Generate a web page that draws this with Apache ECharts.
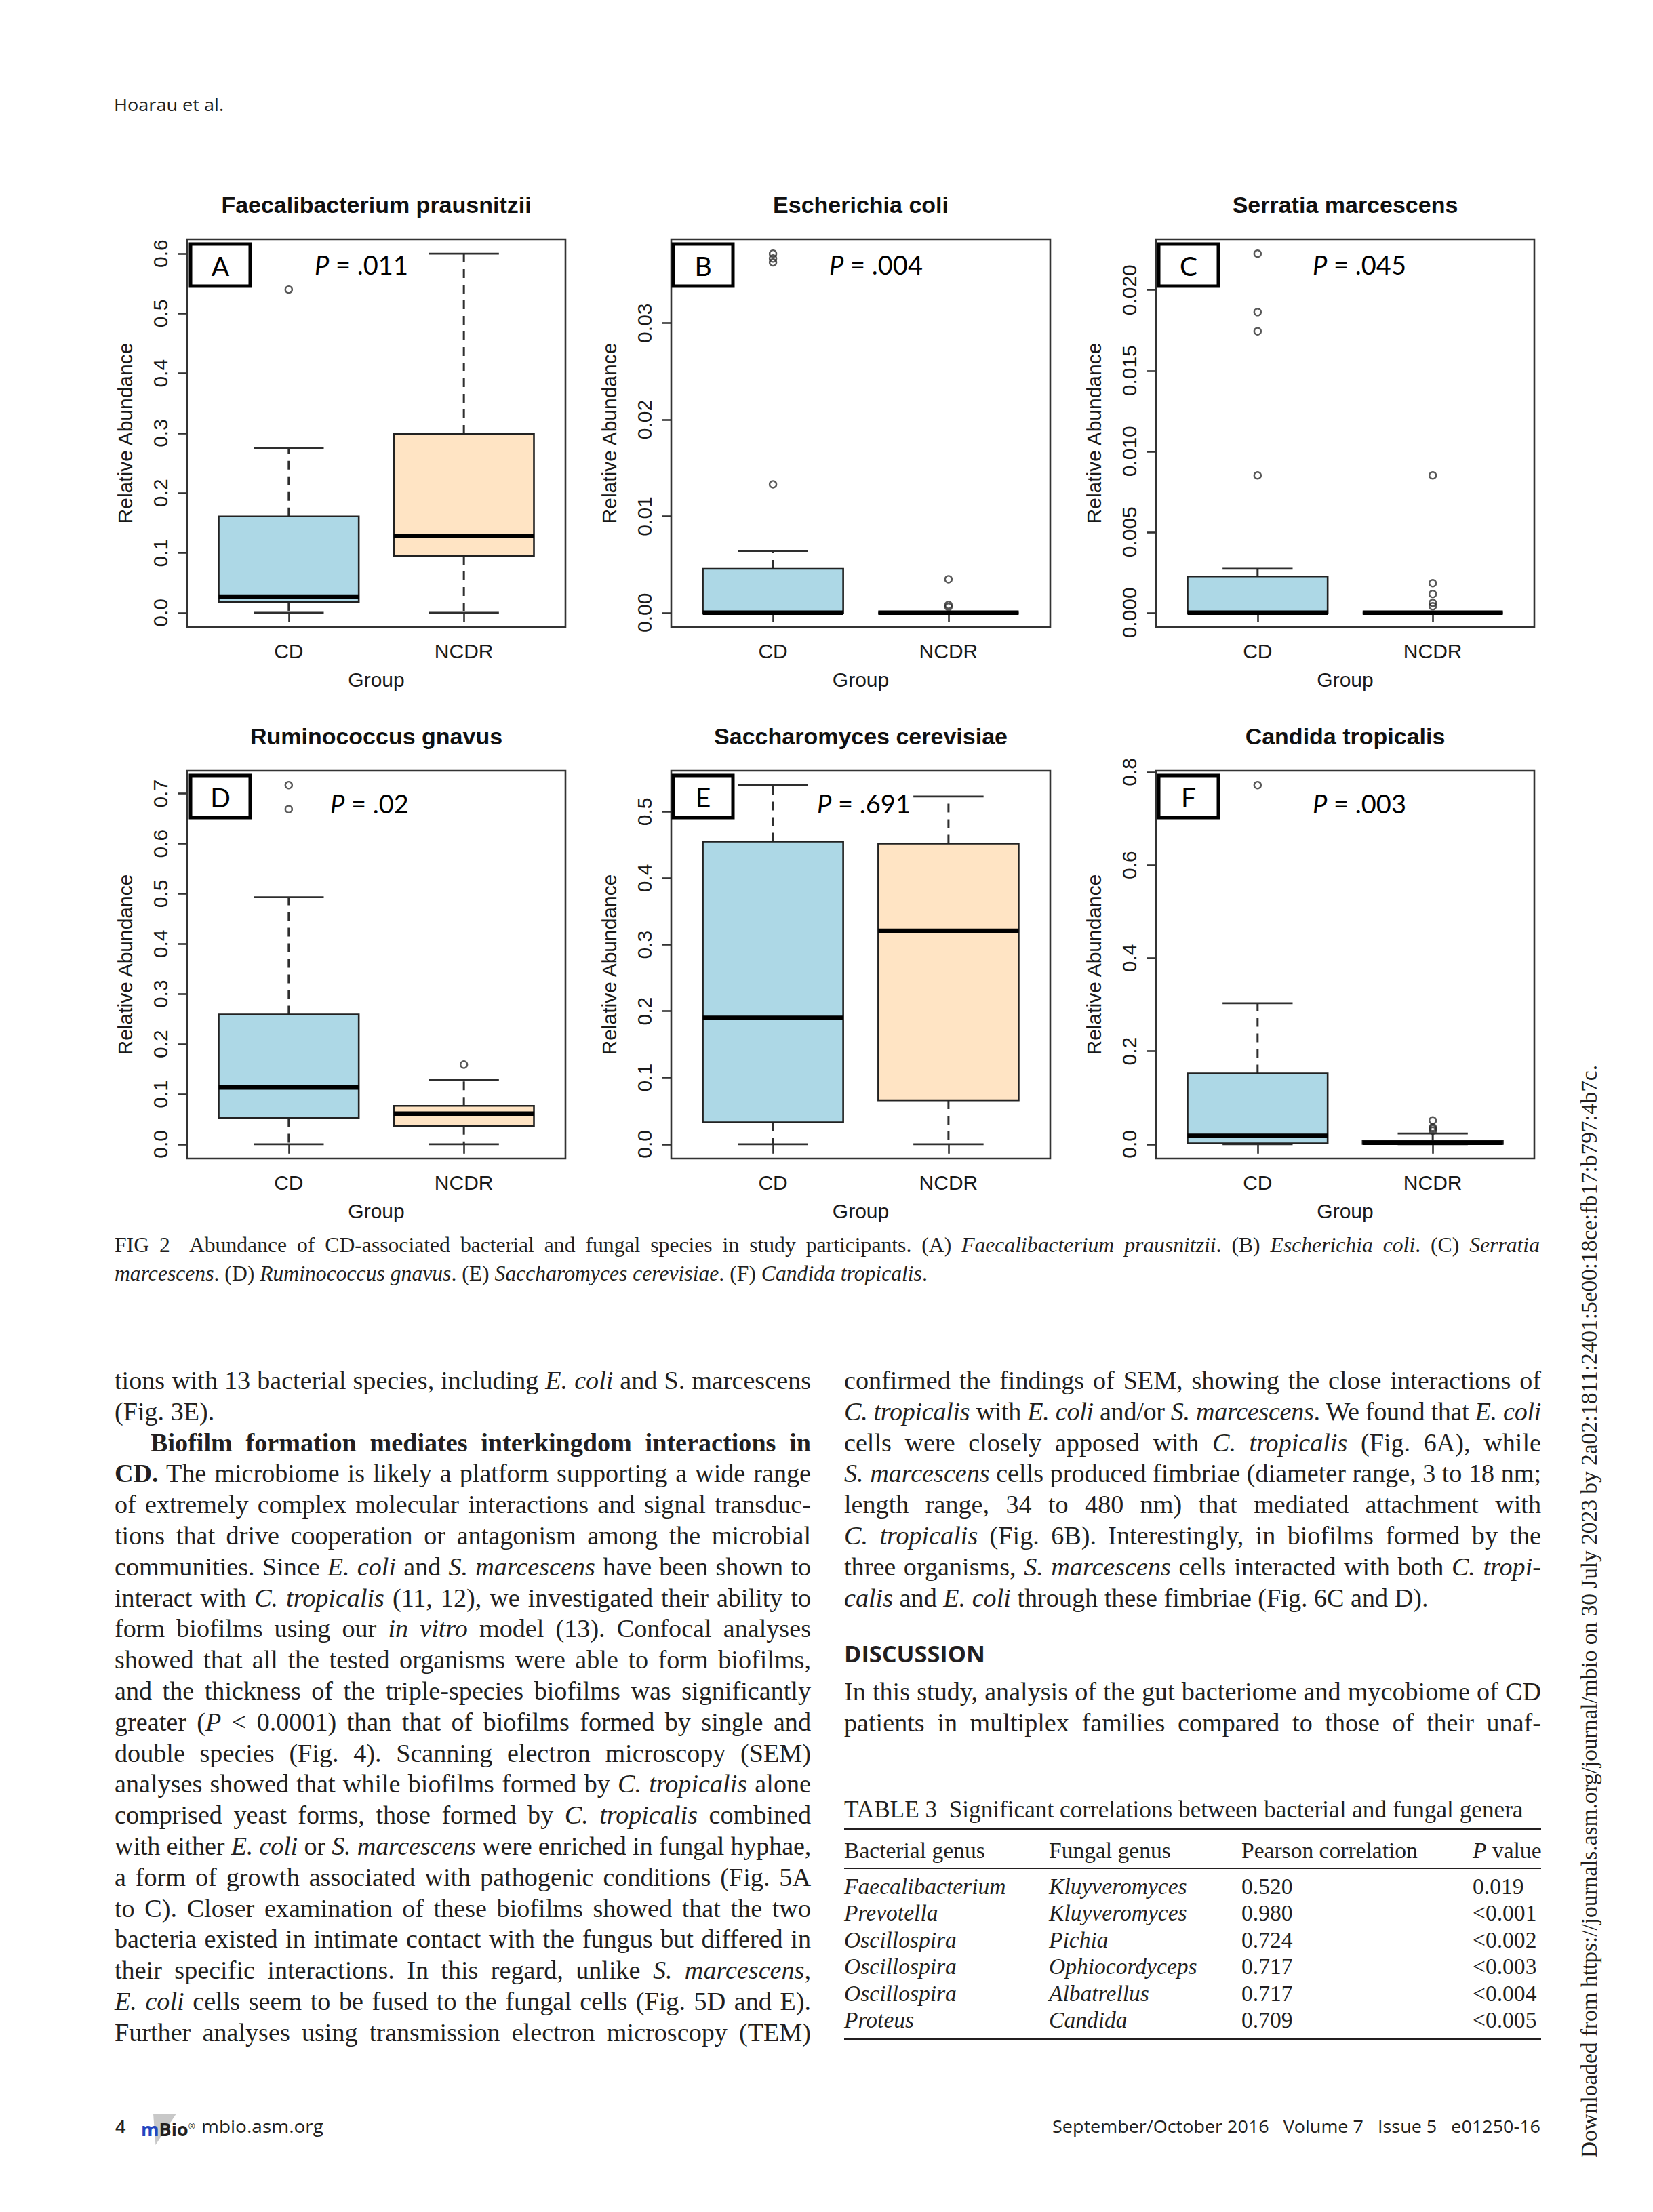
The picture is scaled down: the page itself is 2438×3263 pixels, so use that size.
<!DOCTYPE html>
<html>
<head>
<meta charset="utf-8">
<script src="https://cdn.jsdelivr.net/npm/echarts@6/dist/echarts.min.js"></script>
<style>
html,body{margin:0;padding:0;background:#fff;}
#page{position:relative;width:2438px;height:3263px;overflow:hidden;background:#fff;}
#chart{position:absolute;left:0;top:0;width:2438px;height:3263px;}
.txt{position:absolute;white-space:nowrap;color:#231f20;z-index:2;}
.serif{font-family:'Liberation Serif','Times New Roman',serif;}
.sans{font-family:'Open Sans','Liberation Sans',sans-serif;}
.rule{position:absolute;background:#231f20;z-index:2;}
</style>
</head>
<body>
<div id="page"><div id="chart"></div></div>
<script>
// ---------------- DATA ----------------
const GROUPS = ['CD', 'NCDR'];
const PANEL_TITLES = ['Faecalibacterium prausnitzii', 'Escherichia coli', 'Serratia marcescens',
                      'Ruminococcus gnavus', 'Saccharomyces cerevisiae', 'Candida tropicalis'];
const PANEL_LETTERS = ['A', 'B', 'C', 'D', 'E', 'F'];
const P_VALUES = ['.011', '.004', '.045', '.02', '.691', '.003'];
const Y_NAME = 'Relative Abundance';
const X_NAME = 'Group';

// [lower whisker, Q1, median, Q3, upper whisker]
const A_CD   = [0, 0.018, 0.027, 0.161, 0.275];
const A_NCDR = [0, 0.095, 0.128, 0.299, 0.600];
const A_OUT_CD = [0.540];
const A_OUT_NCDR = [];
const A_TICKS = ['0.0', '0.1', '0.2', '0.3', '0.4', '0.5', '0.6'];

const B_CD   = [0, 0, 0, 0.00455, 0.00637];
const B_NCDR = [0, 0, 0, 0, 0];
const B_OUT_CD = [0.0133, 0.0363, 0.0367, 0.0372];
const B_OUT_NCDR = [0.00347, 0.0008, 0.0006];
const B_TICKS = ['0.00', '0.01', '0.02', '0.03'];

const C_CD   = [0, 0, 0, 0.00225, 0.00273];
const C_NCDR = [0, 0, 0, 0, 0];
const C_OUT_CD = [0.00851, 0.01744, 0.01863, 0.02225];
const C_OUT_NCDR = [0.00851, 0.00183, 0.00116, 0.00061, 0.0004];
const C_TICKS = ['0.000', '0.005', '0.010', '0.015', '0.020'];

const D_CD   = [0, 0.052, 0.113, 0.259, 0.493];
const D_NCDR = [0, 0.0366, 0.061, 0.0766, 0.129];
const D_OUT_CD = [0.669, 0.717];
const D_OUT_NCDR = [0.159];
const D_TICKS = ['0.0', '0.1', '0.2', '0.3', '0.4', '0.5', '0.6', '0.7'];

const E_CD   = [0, 0.033, 0.190, 0.455, 0.540];
const E_NCDR = [0, 0.066, 0.321, 0.452, 0.523];
const E_OUT_CD = [];
const E_OUT_NCDR = [];
const E_TICKS = ['0.0', '0.1', '0.2', '0.3', '0.4', '0.5'];

const F_CD   = [0, 0.002, 0.018, 0.152, 0.303];
const F_NCDR = [0, 0.0005, 0.003, 0.007, 0.023];
const F_OUT_CD = [0.772];
const F_OUT_NCDR = [0.051, 0.036, 0.033, 0.029];
const F_TICKS = ['0.0', '0.2', '0.4', '0.6', '0.8'];

// page text
const HEADER = 'Hoarau et al.';
const CAPTION_1 = 'FIG 2&nbsp; Abundance of CD-associated bacterial and fungal species in study participants. (A) <i>Faecalibacterium prausnitzii</i>. (B) <i>Escherichia coli</i>. (C) <i>Serratia</i>';
const CAPTION_2 = '<i>marcescens</i>. (D) <i>Ruminococcus gnavus</i>. (E) <i>Saccharomyces cerevisiae</i>. (F) <i>Candida tropicalis</i>.';
const LEFT_LINES = [
  ['tions with 13 bacterial species, including <i>E. coli</i> and S. marcescens', 'j'],
  ['(Fig. 3E).', 'l'],
  ['<b>Biofilm formation mediates interkingdom interactions in</b>', 'ji'],
  ['<b>CD.</b> The microbiome is likely a platform supporting a wide range', 'j'],
  ['of extremely complex molecular interactions and signal transduc-', 'j'],
  ['tions that drive cooperation or antagonism among the microbial', 'j'],
  ['communities. Since <i>E. coli</i> and <i>S. marcescens</i> have been shown to', 'j'],
  ['interact with <i>C. tropicalis</i> (11, 12), we investigated their ability to', 'j'],
  ['form biofilms using our <i>in vitro</i> model (13). Confocal analyses', 'j'],
  ['showed that all the tested organisms were able to form biofilms,', 'j'],
  ['and the thickness of the triple-species biofilms was significantly', 'j'],
  ['greater (<i>P</i> &lt; 0.0001) than that of biofilms formed by single and', 'j'],
  ['double species (Fig. 4). Scanning electron microscopy (SEM)', 'j'],
  ['analyses showed that while biofilms formed by <i>C. tropicalis</i> alone', 'j'],
  ['comprised yeast forms, those formed by <i>C. tropicalis</i> combined', 'j'],
  ['with either <i>E. coli</i> or <i>S. marcescens</i> were enriched in fungal hyphae,', 'j'],
  ['a form of growth associated with pathogenic conditions (Fig. 5A', 'j'],
  ['to C). Closer examination of these biofilms showed that the two', 'j'],
  ['bacteria existed in intimate contact with the fungus but differed in', 'j'],
  ['their specific interactions. In this regard, unlike <i>S. marcescens</i>,', 'j'],
  ['<i>E. coli</i> cells seem to be fused to the fungal cells (Fig. 5D and E).', 'j'],
  ['Further analyses using transmission electron microscopy (TEM)', 'j']
];
const RIGHT_LINES = [
  ['confirmed the findings of SEM, showing the close interactions of', 'j'],
  ['<i>C. tropicalis</i> with <i>E. coli</i> and/or <i>S. marcescens</i>. We found that <i>E. coli</i>', 'j'],
  ['cells were closely apposed with <i>C. tropicalis</i> (Fig. 6A), while', 'j'],
  ['<i>S. marcescens</i> cells produced fimbriae (diameter range, 3 to 18 nm;', 'j'],
  ['length range, 34 to 480 nm) that mediated attachment with', 'j'],
  ['<i>C. tropicalis</i> (Fig. 6B). Interestingly, in biofilms formed by the', 'j'],
  ['three organisms, <i>S. marcescens</i> cells interacted with both <i>C. tropi-</i>', 'j'],
  ['<i>calis</i> and <i>E. coli</i> through these fimbriae (Fig. 6C and D).', 'l']
];
const DISCUSSION_HEAD = 'DISCUSSION';
const DISCUSSION_LINES = [
  ['In this study, analysis of the gut bacteriome and mycobiome of CD', 'j'],
  ['patients in multiplex families compared to those of their unaf-', 'j']
];
const TABLE_TITLE = 'TABLE 3&nbsp; Significant correlations between bacterial and fungal genera';
const TABLE_HEAD = ['Bacterial genus', 'Fungal genus', 'Pearson correlation', '<i>P</i> value'];
const TAB_BACT = ['Faecalibacterium', 'Prevotella', 'Oscillospira', 'Oscillospira', 'Oscillospira', 'Proteus'];
const TAB_FUNG = ['Kluyveromyces', 'Kluyveromyces', 'Pichia', 'Ophiocordyceps', 'Albatrellus', 'Candida'];
const TAB_R = ['0.520', '0.980', '0.724', '0.717', '0.717', '0.709'];
const TAB_P = ['0.019', '&lt;0.001', '&lt;0.002', '&lt;0.003', '&lt;0.004', '&lt;0.005'];
const FOOT_LEFT = 'mbio.asm.org';
const FOOT_RIGHT = 'September/October 2016&nbsp;&nbsp; Volume 7&nbsp;&nbsp; Issue 5&nbsp;&nbsp; e01250-16';
const SIDE_TEXT = 'Downloaded from https://journals.asm.org/journal/mbio on 30 July 2023 by 2a02:1811:2401:5e00:18ce:fb17:b797:4b7c.';

// ---------------- LAYOUT ----------------
const GRID_LEFT = [276, 990, 1705];
const GRID_W = [558, 559, 558];
const GRID_TOP = [353, 1137];
const GRID_H = 572;
const TITLE_Y = [302, 1086];
const LETTER_X = [281, 993, 1709];
const LETTER_Y = [360, 1144];
const P_X = [464, 1223, 1936, 487, 1205, 1936];
const P_Y = [390, 1185];
const BOX_COLORS = ['#ADD8E6', '#FFE4C4'];
const AX_FS = 30;

const PANELS = [
  {cd: A_CD, ncdr: A_NCDR, outCd: A_OUT_CD, outNcdr: A_OUT_NCDR, ticks: A_TICKS},
  {cd: B_CD, ncdr: B_NCDR, outCd: B_OUT_CD, outNcdr: B_OUT_NCDR, ticks: B_TICKS},
  {cd: C_CD, ncdr: C_NCDR, outCd: C_OUT_CD, outNcdr: C_OUT_NCDR, ticks: C_TICKS},
  {cd: D_CD, ncdr: D_NCDR, outCd: D_OUT_CD, outNcdr: D_OUT_NCDR, ticks: D_TICKS},
  {cd: E_CD, ncdr: E_NCDR, outCd: E_OUT_CD, outNcdr: E_OUT_NCDR, ticks: E_TICKS},
  {cd: F_CD, ncdr: F_NCDR, outCd: F_OUT_CD, outNcdr: F_OUT_NCDR, ticks: F_TICKS}
];

function boxRender(params, api) {
  const x = api.value(0);
  const lo = api.value(1), q1 = api.value(2), med = api.value(3), q3 = api.value(4), hi = api.value(5);
  const cx = api.coord([x, med])[0];
  const yLo = api.coord([x, lo])[1], yQ1 = api.coord([x, q1])[1], yMed = api.coord([x, med])[1];
  const yQ3 = api.coord([x, q3])[1], yHi = api.coord([x, hi])[1];
  const bw = api.size([0.8, 0])[0];
  const sw = bw / 2;
  const fill = BOX_COLORS[Math.round(x) - 1];
  const dash = () => ({stroke: '#2e2e2e', lineWidth: 3, lineDash: [13, 10], fill: null});
  const solid = () => ({stroke: '#2e2e2e', lineWidth: 2.8, fill: null});
  return {
    type: 'group',
    children: [
      {type: 'line', shape: {x1: cx, y1: yQ3, x2: cx, y2: yHi}, style: dash()},
      {type: 'line', shape: {x1: cx, y1: yQ1, x2: cx, y2: yLo}, style: dash()},
      {type: 'line', shape: {x1: cx - sw / 2, y1: yHi, x2: cx + sw / 2, y2: yHi}, style: solid()},
      {type: 'line', shape: {x1: cx - sw / 2, y1: yLo, x2: cx + sw / 2, y2: yLo}, style: solid()},
      {type: 'rect', shape: {x: cx - bw / 2, y: yQ3, width: bw, height: Math.max(yQ1 - yQ3, 0)},
       style: {fill: fill, stroke: '#222', lineWidth: 2.6}},
      {type: 'line', shape: {x1: cx - bw / 2, y1: yMed, x2: cx + bw / 2, y2: yMed},
       style: {stroke: '#000', lineWidth: 6.5, fill: null}}
    ]
  };
}

const grids = [], xAxes = [], yAxes = [], series = [], graphics = [];
const AX_FONT = 'Liberation Sans';
PANELS.forEach((p, i) => {
  const col = i % 3, row = Math.floor(i / 3);
  const left = GRID_LEFT[col], top = GRID_TOP[row], width = GRID_W[col];
  grids.push({left: left, top: top, width: width, height: GRID_H, show: true,
    borderColor: '#333', borderWidth: 2.6, backgroundColor: 'rgba(0,0,0,0)',
    containLabel: false, outerBoundsMode: 'none'});
  const tickVals = p.ticks.map(Number);
  const all = [].concat(p.cd, p.ncdr, p.outCd, p.outNcdr);
  const hi = Math.max.apply(null, all), lo = Math.min.apply(null, all);
  const pad = 0.04 * (hi - lo);
  xAxes.push({
    gridIndex: i, type: 'value', min: 0.42, max: 2.58,
    axisLine: {show: false}, splitLine: {show: false},
    axisTick: {show: true, customValues: [1, 2], length: 14, inside: false, lineStyle: {color: '#333', width: 2.6}},
    axisLabel: {show: true, customValues: [1, 2], formatter: v => GROUPS[Math.round(v) - 1],
      margin: 20, fontSize: AX_FS, color: '#1a1a1a', fontFamily: AX_FONT},
    name: X_NAME, nameLocation: 'middle', nameGap: 62,
    nameTextStyle: {fontSize: AX_FS, color: '#1a1a1a', fontFamily: AX_FONT}
  });
  yAxes.push({
    gridIndex: i, type: 'value', min: lo - pad, max: hi + pad,
    axisLine: {show: false}, splitLine: {show: false},
    axisTick: {show: true, customValues: tickVals, length: 13, inside: false, lineStyle: {color: '#333', width: 2.6}},
    axisLabel: {show: true, customValues: tickVals, rotate: 90, margin: 25, fontSize: AX_FS, color: '#1a1a1a', fontFamily: AX_FONT,
      formatter: v => {
        for (let k = 0; k < tickVals.length; k++) if (Math.abs(tickVals[k] - v) < 1e-9) return p.ticks[k];
        return '';
      }},
    name: Y_NAME, nameLocation: 'middle', nameGap: 77, nameRotate: 90,
    nameTextStyle: {fontSize: AX_FS, color: '#1a1a1a', fontFamily: AX_FONT}
  });
  series.push({
    type: 'custom', xAxisIndex: i, yAxisIndex: i, renderItem: boxRender, clip: false, silent: true,
    encode: {x: 0, y: [1, 2, 3, 4, 5]},
    data: [[1].concat(p.cd), [2].concat(p.ncdr)], z: 2
  });
  series.push({
    type: 'scatter', xAxisIndex: i, yAxisIndex: i, symbol: 'circle', symbolSize: 10, silent: true,
    itemStyle: {color: 'rgba(255,255,255,0)', borderColor: '#2e2e2e', borderWidth: 2.4},
    data: p.outCd.map(v => [1, v]).concat(p.outNcdr.map(v => [2, v])), z: 3
  });
  // panel title
  graphics.push({type: 'text', x: left + width / 2, y: TITLE_Y[row], z: 10,
    style: {text: PANEL_TITLES[i], align: 'center', verticalAlign: 'middle',
      fontSize: 34, fontWeight: 'bold', fontFamily: AX_FONT, fill: '#111'}});
  // letter box
  graphics.push({type: 'rect', z: 10, shape: {x: LETTER_X[col], y: LETTER_Y[row], width: 88, height: 62},
    style: {fill: 'none', stroke: '#000', lineWidth: 5}});
  graphics.push({type: 'text', x: LETTER_X[col] + 44, y: LETTER_Y[row] + 32, z: 11,
    style: {text: PANEL_LETTERS[i], align: 'center', verticalAlign: 'middle',
      fontSize: 39, fontFamily: 'Lato', fill: '#000'}});
  // P value
  graphics.push({type: 'text', x: P_X[i], y: P_Y[row], z: 11,
    style: {text: '{p|P} = ' + P_VALUES[i], align: 'left', verticalAlign: 'middle',
      fontSize: 38, fontFamily: 'Lato', fill: '#000',
      rich: {p: {fontStyle: 'italic', fontSize: 38, fontFamily: 'Lato', fill: '#000'}}}});
});

const chart = echarts.init(document.getElementById('chart'), null, {renderer: 'svg', width: 2438, height: 3263});
chart.setOption({
  animation: false,
  backgroundColor: '#fff',
  grid: grids, xAxis: xAxes, yAxis: yAxes, series: series, graphic: graphics
});

// ---------------- PAGE TEXT ----------------
const page = document.getElementById('page');
function measure(html, cls, fs, style) {
  const s = document.createElement('span');
  s.className = cls;
  s.style.position = 'absolute'; s.style.visibility = 'hidden'; s.style.whiteSpace = 'nowrap';
  s.style.fontSize = fs + 'px';
  if (style) Object.assign(s.style, style);
  s.innerHTML = html;
  page.appendChild(s);
  const w = s.getBoundingClientRect().width;
  page.removeChild(s);
  return w;
}
function fitFS(html, cls, target, style) { return 40 * target / measure(html, cls, 40, style); }
function place(html, cls, fs, x, yc, opt) {
  opt = opt || {};
  const lh = opt.lh || Math.round(fs * 1.3);
  const d = document.createElement('div');
  d.className = 'txt ' + cls;
  d.style.fontSize = fs + 'px';
  d.style.lineHeight = lh + 'px';
  d.style.top = (yc - lh / 2) + 'px';
  if (opt.style) Object.assign(d.style, opt.style);
  d.innerHTML = '<span>' + html + '</span>';
  page.appendChild(d);
  const s = d.firstChild;
  let w = s.getBoundingClientRect().width;
  if (opt.justify) {
    const n = (s.textContent.match(/[ \u00a0]/g) || []).length;
    if (w > opt.justify) {
      const nc = s.textContent.length;
      s.style.letterSpacing = ((opt.justify - w) / nc) + 'px';
      w = s.getBoundingClientRect().width;
    }
    if (n) s.style.wordSpacing = ((opt.justify - w) / n) + 'px';
    w = opt.justify;
  }
  if (opt.squeeze) {
    d.style.transformOrigin = '0 50%';
    d.style.transform = 'scaleX(' + (opt.squeeze / w) + ')';
    w = opt.squeeze;
  }
  if (opt.align === 'right') d.style.left = (x - w) + 'px'; else d.style.left = x + 'px';
  if (opt.rotate) { d.style.transformOrigin = '0 50%'; d.style.transform = 'rotate(-90deg)'; }
  return d;
}

// header
place(HEADER, 'sans', 26, 168, 154, {squeeze: 162});

// caption
const capFS = fitFS(CAPTION_2, 'serif', 1199);
place(CAPTION_1, 'serif', capFS, 169, 1836, {justify: 2102});
place(CAPTION_2, 'serif', capFS, 169, 1878);

// body columns
const BODY_Y0 = 2036, BODY_DY = 45.8;
const bodyFS = fitFS(RIGHT_LINES[7][0], 'serif', 862);
const LCOL_X = 169, LCOL_W = 1027, RCOL_X = 1245, RCOL_W = 1028, INDENT = 53;
LEFT_LINES.forEach((ln, k) => {
  const ind = ln[1].indexOf('i') >= 0 ? INDENT : 0;
  place(ln[0], 'serif', bodyFS, LCOL_X + ind, BODY_Y0 + BODY_DY * k,
    {lh: 46, justify: ln[1][0] === 'j' ? LCOL_W - ind : 0});
});
RIGHT_LINES.forEach((ln, k) => {
  place(ln[0], 'serif', bodyFS, RCOL_X, BODY_Y0 + BODY_DY * k,
    {lh: 46, justify: ln[1][0] === 'j' ? RCOL_W : 0});
});
place(DISCUSSION_HEAD, 'sans', 34, RCOL_X, 2439, {style: {fontWeight: '700'}, squeeze: 208});
DISCUSSION_LINES.forEach((ln, k) => {
  place(ln[0], 'serif', bodyFS, RCOL_X, 2495 + BODY_DY * k, {lh: 46, justify: RCOL_W});
});

// table
const ttFS = fitFS(TABLE_TITLE, 'serif', 1002);
place(TABLE_TITLE, 'serif', ttFS, RCOL_X, 2670);
function rule(y, h) {
  const r = document.createElement('div');
  r.className = 'rule';
  r.style.left = RCOL_X + 'px'; r.style.width = RCOL_W + 'px';
  r.style.top = (y - h / 2) + 'px'; r.style.height = h + 'px';
  page.appendChild(r);
}
rule(2698, 3.5); rule(2756, 2.2); rule(3008, 3.5);
const tabFS = fitFS(TABLE_HEAD[2], 'serif', 260);
const TAB_COLS = [1245, 1547, 1831, 2172];
const TAB_HEAD_Y = 2730;
const TAB_ROW_Y0 = 2783, TAB_ROW_DY = 39.4;
TABLE_HEAD.forEach((h, c) => place(h, 'serif', tabFS, TAB_COLS[c], TAB_HEAD_Y));
TAB_BACT.forEach((b, r) => {
  const y = TAB_ROW_Y0 + TAB_ROW_DY * r;
  place('<i>' + b + '</i>', 'serif', tabFS, TAB_COLS[0], y);
  place('<i>' + TAB_FUNG[r] + '</i>', 'serif', tabFS, TAB_COLS[1], y);
  place(TAB_R[r], 'serif', tabFS, TAB_COLS[2], y);
  place(TAB_P[r], 'serif', tabFS, TAB_COLS[3], y);
});

// footer
place('4', 'sans', 27, 170, 3136, {style: {fontWeight: '600'}});
const tri = document.createElement('div');
tri.style.cssText = 'position:absolute;left:226px;top:3118px;width:34px;height:46px;background:#c8c8c8;clip-path:polygon(0 0,100% 0,10% 100%);z-index:1;';
page.appendChild(tri);
place('<span style="color:#2446c0">m</span>Bio<sup style="font-size:12px;font-weight:400">®</sup>', 'sans', 27, 208, 3136, {style: {fontWeight: '700', fontStyle: 'normal'}});
place(FOOT_LEFT, 'sans', 25, 297, 3136, {squeeze: 180});
place(FOOT_RIGHT, 'sans', 25, 2272, 3136, {squeeze: 720, align: 'right'});

// side text (reads bottom to top)
const sideFS = fitFS(SIDE_TEXT, 'serif', 1613);
place(SIDE_TEXT, 'serif', sideFS, 2344, 3183, {rotate: true, lh: 40});
</script>
</body>
</html>
